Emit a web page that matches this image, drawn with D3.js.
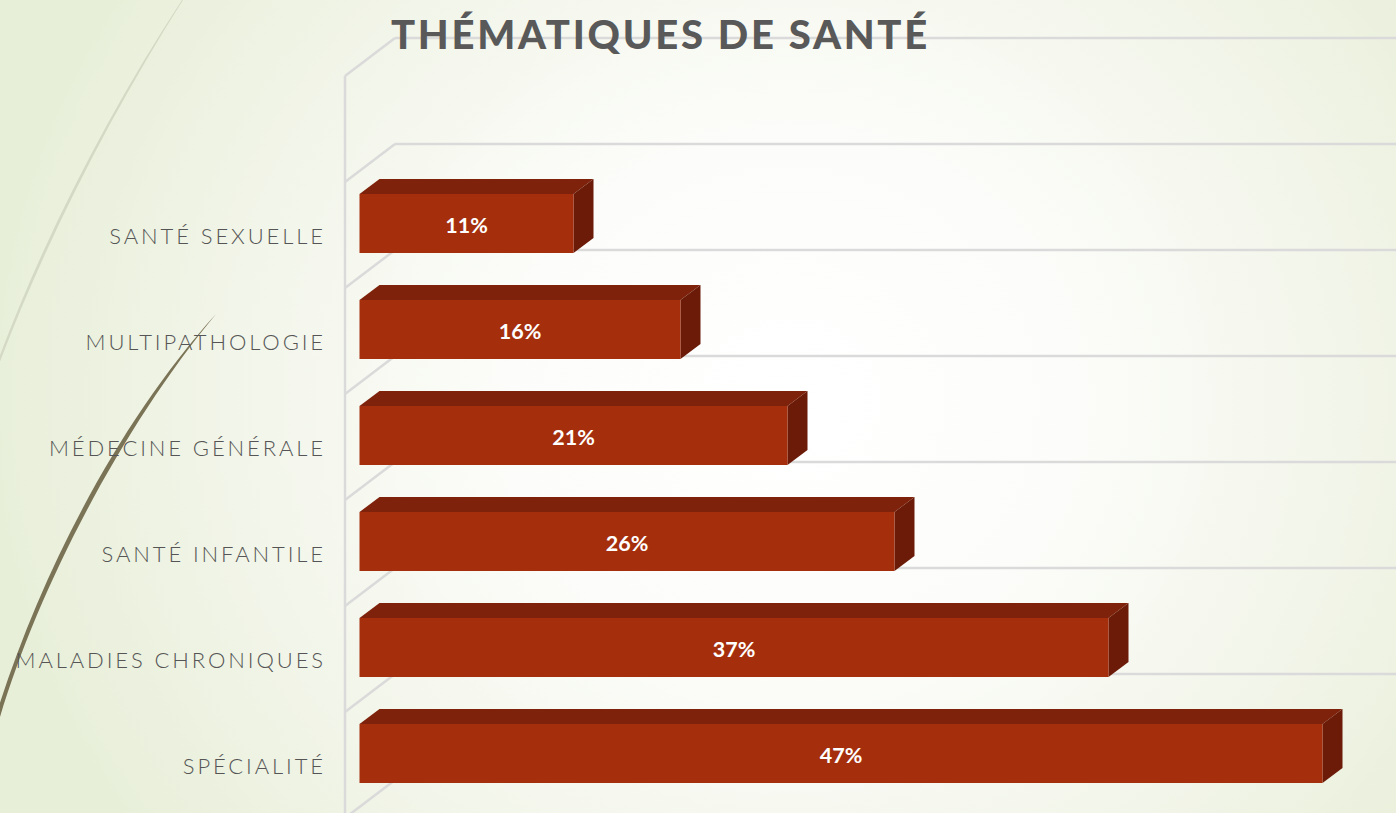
<!DOCTYPE html>
<html lang="fr">
<head>
<meta charset="utf-8">
<title>Thématiques de santé</title>
<script src="https://cdn.jsdelivr.net/npm/d3@7"></script>
<style>
  html, body { margin: 0; padding: 0; background: #fff; overflow: hidden; }
  svg { display: block; }
</style>
</head>
<body>
<div id="plot"></div>
<script>
// Chart data, top row first
const categories = ["SANTÉ SEXUELLE", "MULTIPATHOLOGIE", "MÉDECINE GÉNÉRALE", "SANTÉ INFANTILE", "MALADIES CHRONIQUES", "SPÉCIALITÉ"];
const barValues = [10, 15, 20, 25, 35, 45];   // bar lengths as drawn
const barLabels = ["11%", "16%", "21%", "26%", "37%", "47%"];

const width = 1396, height = 813;
const fontFamily = "Lato, 'Open Sans', sans-serif";
const depthX = 20, depthY = 15;   // 3D offset of the bars
const wallX = 345, gridX = 395;

const svg = d3.select("#plot")
    .append("svg")
    .attr("width", width)
    .attr("height", height);

// Background gradient
const defs = svg.append("defs");
const bg = defs.append("radialGradient")
    .attr("id", "bg")
    .attr("gradientUnits", "userSpaceOnUse")
    .attr("cx", 0).attr("cy", 0).attr("r", 1)
    .attr("gradientTransform", "translate(790,400) scale(800,750)");
bg.append("stop").attr("offset", "0%").attr("stop-color", "#ffffff");
bg.append("stop").attr("offset", "35%").attr("stop-color", "#fcfdfa");
bg.append("stop").attr("offset", "70%").attr("stop-color", "#f2f5e9");
bg.append("stop").attr("offset", "100%").attr("stop-color", "#e8efd9");

svg.append("rect")
    .attr("width", width).attr("height", height)
    .attr("fill", "url(#bg)");

// Decorative curves on the left
svg.append("path")
    .attr("d", "M182,0 C110,110 45,235 -1,358 L-1,364 C47,238 112,112 183,0 Z")
    .attr("fill", "#d3d9c4");
svg.append("path")
    .attr("d", "M216,314 C120,420 42,570 -3,712 L0,717 C38,590 120,430 216,314 Z")
    .attr("fill", "#7a7355");

// Scales
const x = d3.scaleLinear().domain([0, 45]).range([359.5, 1322.5]);
const y = d3.scaleBand().domain(categories).range([144, 780]);
const step = y.step();

// Back wall grid lines and the diagonals running to the left wall
const gridRows = d3.range(-1, categories.length + 1);
const gridColor = "#dadada";
const grid = svg.append("g")
    .attr("fill", "none")
    .attr("stroke", gridColor)
    .attr("stroke-width", 2.5);

gridRows.forEach(i => {
    const gy = 144 + i * step;
    if (i < categories.length) {
        grid.append("line")
            .attr("x1", gridX).attr("x2", width)
            .attr("y1", gy).attr("y2", gy);
    }
    grid.append("line")
        .attr("x1", wallX).attr("x2", gridX)
        .attr("y1", gy + 38).attr("y2", gy);
});
grid.append("line")
    .attr("x1", wallX).attr("x2", wallX)
    .attr("y1", 144 - step + 38).attr("y2", height);

// Bars: top face, side face, then front face
const rows = categories.map((c, i) => ({ cat: c, value: barValues[i], label: barLabels[i] }));
const barTop = d => y(d.cat) + 50;
const barH = 59;

const bars = svg.append("g")
    .selectAll("g")
    .data(rows)
    .join("g");

bars.append("path")
    .attr("fill", "#7f220b")
    .attr("d", d => {
        const x0 = x(0), x1 = x(d.value), t = barTop(d);
        return `M${x0},${t}L${x0 + depthX},${t - depthY}L${x1 + depthX},${t - depthY}L${x1},${t}Z`;
    });

bars.append("path")
    .attr("fill", "#6b1b08")
    .attr("d", d => {
        const x1 = x(d.value), t = barTop(d);
        return `M${x1},${t}L${x1 + depthX},${t - depthY}L${x1 + depthX},${t - depthY + barH}L${x1},${t + barH}Z`;
    });

bars.append("rect")
    .attr("x", x(0))
    .attr("y", barTop)
    .attr("width", d => x(d.value) - x(0))
    .attr("height", barH)
    .attr("fill", "#a52f0d");

// Value labels
bars.append("text")
    .attr("x", d => (x(0) + x(d.value)) / 2)
    .attr("y", d => barTop(d) + 38.5)
    .attr("text-anchor", "middle")
    .attr("fill", "#ffffff")
    .style("font-family", fontFamily)
    .style("font-weight", 700)
    .style("font-size", "21.5px")
    .text(d => d.label);

// Category labels
svg.append("g")
    .selectAll("text")
    .data(rows)
    .join("text")
    .attr("x", 326)
    .attr("y", d => barTop(d) + 50)
    .attr("text-anchor", "end")
    .attr("fill", "#555555")
    .style("font-family", fontFamily)
    .style("font-weight", 300)
    .style("font-size", "22px")
    .style("letter-spacing", "2.9px")
    .text(d => d.cat);

// Title
svg.append("text")
    .attr("x", 391)
    .attr("y", 49)
    .attr("fill", "#595959")
    .style("font-family", fontFamily)
    .style("font-weight", 900)
    .style("font-size", "40px")
    .style("letter-spacing", "2.7px")
    .text("THÉMATIQUES DE SANTÉ");
</script>
</body>
</html>
